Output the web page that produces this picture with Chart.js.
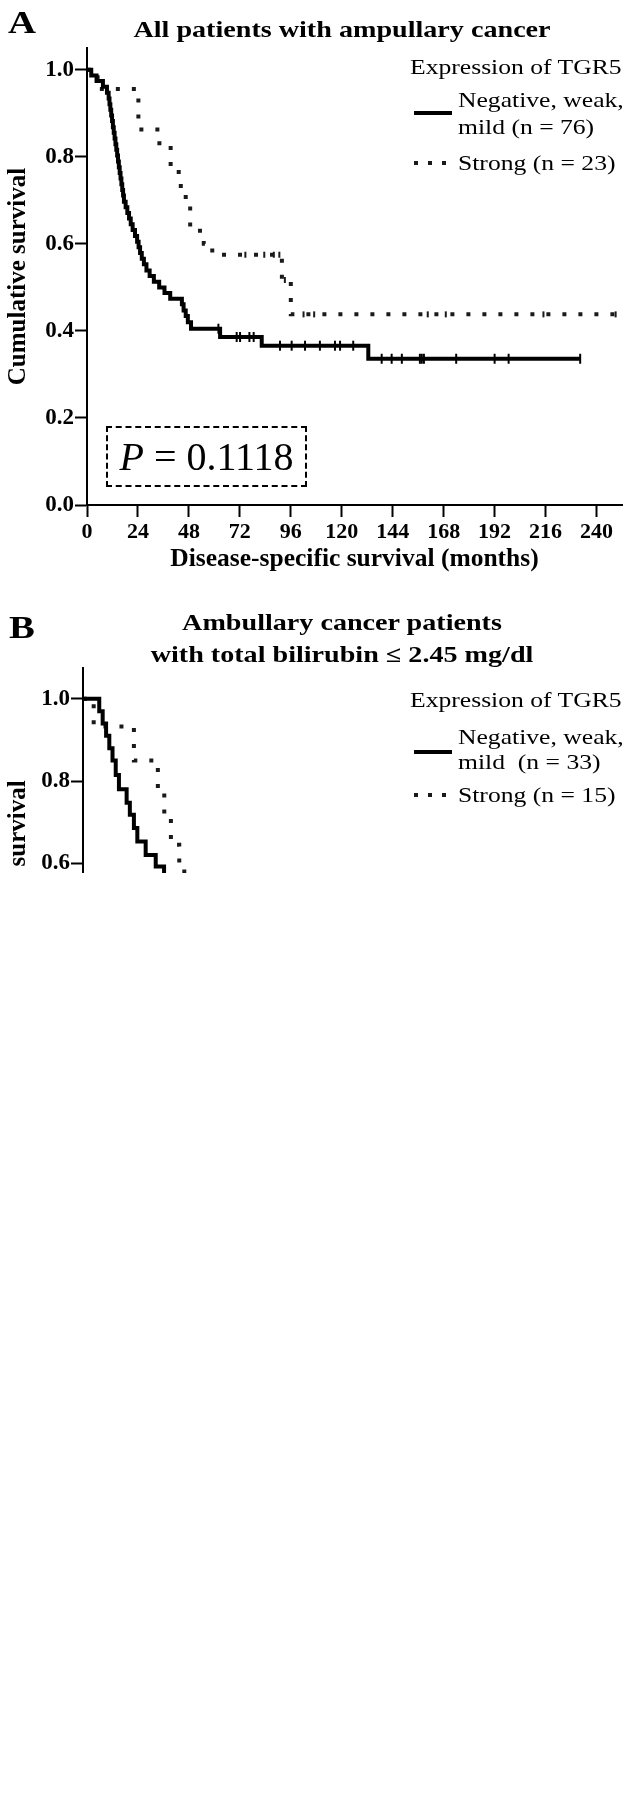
<!DOCTYPE html>
<html>
<head>
<meta charset="utf-8">
<script src="https://cdn.jsdelivr.net/npm/chart.js@4.4.1/dist/chart.umd.min.js"></script>
<style>
  body { margin:0; background:#fff; width:630px; height:1804px; position:relative; overflow:hidden;
         font-family:"Liberation Serif","Times New Roman",serif; color:#000; }
  .panel { position:absolute; left:0; width:630px; }
  #panelA { top:0; height:580px; }
  #panelB { top:580px; height:293px; overflow:hidden; }
  canvas { position:absolute; left:0; top:0; }
  .txt { position:absolute; white-space:nowrap; font-size:21px; line-height:24px; height:24px;
         transform-origin:left center; transform:scaleX(1.22); }
  .ttl { position:absolute; white-space:nowrap; font-size:22.5px; font-weight:bold; line-height:26px;
         left:342px; transform:translateX(-50%) scaleX(1.25); transform-origin:center center; }
  .letter { position:absolute; font-size:31px; font-weight:bold; line-height:30px;
            transform-origin:left center; transform:scaleX(1.25); }
  .solid { position:absolute; left:414px; width:38px; height:4px; background:#000; }
  .dots { position:absolute; left:414px; width:38px; height:4px;
          background:repeating-linear-gradient(to right, #1a1a1a 0 4px, transparent 4px 14px); }
  .pbox { position:absolute; left:106px; top:426px; width:201px; height:61px; box-sizing:border-box;
          border:2px dashed #000; font-size:40px; line-height:57px; text-align:center; }
</style>
</head>
<body>
<div class="panel" id="panelA">
  <canvas id="chartA" width="630" height="580"></canvas>
  <div class="letter" style="left:8px; top:8px;">A</div>
  <div class="ttl" style="top:17px;">All patients with ampullary cancer</div>
  <div class="txt" style="left:410px; top:55px;">Expression of TGR5</div>
  <div class="txt" style="left:458px; top:88px;">Negative, weak,</div>
  <div class="solid" style="top:111px;"></div>
  <div class="txt" style="left:458px; top:115px;">mild (n = 76)</div>
  <div class="dots" style="top:161px;"></div>
  <div class="txt" style="left:458px; top:151px;">Strong (n = 23)</div>
  <div class="pbox"><i>P</i> = 0.1118</div>
</div>
<div class="panel" id="panelB">
  <canvas id="chartB" width="630" height="605"></canvas>
  <div class="letter" style="left:9px; top:33px;">B</div>
  <div class="ttl" style="top:30px;">Ambullary cancer patients</div>
  <div class="ttl" style="top:62px;">with total bilirubin ≤ 2.45 mg/dl</div>
  <div class="txt" style="left:410px; top:108px;">Expression of TGR5</div>
  <div class="txt" style="left:458px; top:145px;">Negative, weak,</div>
  <div class="solid" style="top:170px;"></div>
  <div class="txt" style="left:458px; top:170px;">mild&nbsp; (n = 33)</div>
  <div class="dots" style="top:213px;"></div>
  <div class="txt" style="left:458px; top:203px;">Strong (n = 15)</div>
</div>

<script>
// axis ticks
const xTicks = [0, 24, 48, 72, 96, 120, 144, 168, 192, 216, 240];
const yTicks = [0, 0.2, 0.4, 0.6, 0.8, 1.0];

// panel A - negative/weak/mild (n = 76): event times (months) and survival after
const solidA_t = [0, 2.0, 4.5, 7.5, 9.4, 10.2, 10.6, 11.0, 11.4, 11.8, 12.2, 12.6, 13.0, 13.4, 13.8,
  14.2, 14.6, 15.0, 15.4, 15.8, 16.2, 16.6, 17.0, 17.4, 18.2, 19.0, 19.8, 20.6, 21.5, 22.6,
  23.6, 24.3, 25.0, 25.8, 26.8, 28.0, 29.5, 31.5, 34.0, 36.5, 39.2, 44.7, 45.5, 46.5, 47.5,
  49.0, 62.7, 82.3, 132.5, 232.3];
const solidA_s = [1.0, 0.987, 0.974, 0.961, 0.947, 0.934, 0.921, 0.908, 0.895, 0.882, 0.868, 0.855, 0.842, 0.829, 0.816,
  0.803, 0.789, 0.776, 0.763, 0.750, 0.737, 0.724, 0.711, 0.697, 0.684, 0.671, 0.658, 0.645, 0.632, 0.618,
  0.605, 0.592, 0.579, 0.566, 0.553, 0.539, 0.526, 0.513, 0.500, 0.487, 0.474, 0.461, 0.447, 0.434, 0.420,
  0.405, 0.386, 0.366, 0.336, 0.336];
const solidA_censT = [61.9, 70.5, 72.1, 76.5, 78.5, 90.9, 96.4, 102.7, 109.7, 116.8, 119.2, 125.4,
  138.8, 143.5, 148.3, 156.8, 157.7, 158.7, 173.9, 192.0, 198.6, 232.3];
const solidA_censS = [0.405, 0.386, 0.386, 0.386, 0.386, 0.366, 0.366, 0.366, 0.366, 0.366, 0.366, 0.366,
  0.336, 0.336, 0.336, 0.336, 0.336, 0.336, 0.336, 0.336, 0.336, 0.336];

// panel A - strong (n = 23)
const strongA_t = [0, 5.0, 24.2, 34.1, 39.4, 43.2, 46.5, 48.6, 55.0, 59.0, 91.8, 96.0, 250.0];
const strongA_s = [1.0, 0.956, 0.863, 0.820, 0.776, 0.733, 0.690, 0.630, 0.600, 0.575, 0.517, 0.438, 0.438];
const strongA_censT = [74.6, 83.5, 88.0, 90.6, 93.2, 102.0, 107.0, 160.5, 169.0, 215.0, 249.0];
const strongA_censS = [0.575, 0.575, 0.575, 0.575, 0.517, 0.438, 0.438, 0.438, 0.438, 0.438, 0.438];

// panel B - negative/weak/mild (n = 33)
const solidB_t = [0, 7.6, 9.2, 10.8, 12.3, 13.8, 15.3, 16.8, 20.4, 21.9, 23.8, 25.4, 29.3, 34.0, 37.9, 42.0];
const solidB_s = [1.0, 0.970, 0.940, 0.910, 0.880, 0.850, 0.815, 0.780, 0.747, 0.718, 0.686, 0.653, 0.620, 0.592, 0.560, 0.530];

// panel B - strong (n = 15)
const strongB_t = [0, 5.0, 23.8, 35.0, 38.0, 41.1, 45.0, 50.0];
const strongB_s = [1.0, 0.933, 0.850, 0.775, 0.710, 0.645, 0.580, 0.520];

const serif = "'Liberation Serif', 'Times New Roman', serif";

function toPts(t, s) {
  return t.map((v, i) => ({ x: v, y: s[i] }));
}

function buildChart(id, cfg) {
  const ctx = document.getElementById(id).getContext('2d');
  const datasets = [
    { data: toPts(cfg.solidT, cfg.solidS), borderColor: '#000', borderWidth: 4, stepped: 'before',
      pointRadius: 0, fill: false },
    { data: toPts(cfg.strongT, cfg.strongS), borderColor: '#1a1a1a', borderWidth: 4, borderDash: [4, 12],
      borderCapStyle: 'butt', stepped: 'before', pointRadius: 0, fill: false }
  ];
  if (cfg.solidCensT) {
    datasets.push({ type: 'scatter', data: toPts(cfg.solidCensT, cfg.solidCensS), showLine: false,
      pointStyle: 'line', pointRotation: 90, pointRadius: 5, pointBorderColor: '#000', pointBorderWidth: 2 });
  }
  if (cfg.strongCensT) {
    datasets.push({ type: 'scatter', data: toPts(cfg.strongCensT, cfg.strongCensS), showLine: false,
      pointStyle: 'line', pointRotation: 90, pointRadius: 3, pointBorderColor: '#1a1a1a', pointBorderWidth: 2 });
  }
  return new Chart(ctx, {
    type: 'line',
    data: { datasets: datasets },
    options: {
      responsive: false,
      animation: false,
      layout: { padding: { top: cfg.top, right: 8, left: 0, bottom: 0 } },
      plugins: { legend: { display: false }, tooltip: { enabled: false } },
      scales: {
        x: {
          type: 'linear', min: 0, max: 252,
          afterBuildTicks: s => { s.ticks = xTicks.map(v => ({ value: v })); },
          afterFit: s => { s.height = 75; },
          grid: { drawOnChartArea: false, tickLength: 12, tickWidth: 2, tickColor: '#000' },
          border: { color: '#000', width: 2 },
          ticks: { color: '#000', padding: 2, maxRotation: 0, autoSkip: false,
                   font: { family: serif, size: 22, weight: 'bold' } },
          title: { display: true, text: 'Disease-specific survival (months)', color: '#000',
                   font: { family: serif, size: 25.5, weight: 'bold' }, padding: { top: 0, bottom: 5 } }
        },
        y: {
          min: 0, max: cfg.yMax,
          afterBuildTicks: s => { s.ticks = yTicks.map(v => ({ value: v })); },
          afterFit: s => { s.width = cfg.left; },
          grid: { drawOnChartArea: false, tickLength: 12, tickWidth: 2, tickColor: '#000' },
          border: { color: '#000', width: 2 },
          ticks: { color: '#000', padding: 1, callback: v => v.toFixed(1),
                   font: { family: serif, size: 23, weight: 'bold' } },
          title: { display: true, text: 'Cumulative survival', color: '#000',
                   font: { family: serif, size: 25, weight: 'bold' }, padding: { top: 4, bottom: 0 } }
        }
      }
    }
  });
}

buildChart('chartA', {
  solidT: solidA_t, solidS: solidA_s, strongT: strongA_t, strongS: strongA_s,
  solidCensT: solidA_censT, solidCensS: solidA_censS,
  strongCensT: strongA_censT, strongCensS: strongA_censS,
  top: 48, left: 87, yMax: 1.05
});

buildChart('chartB', {
  solidT: solidB_t, solidS: solidB_s, strongT: strongB_t, strongS: strongB_s,
  top: 88, left: 83, yMax: 1.075
});
</script>
</body>
</html>
